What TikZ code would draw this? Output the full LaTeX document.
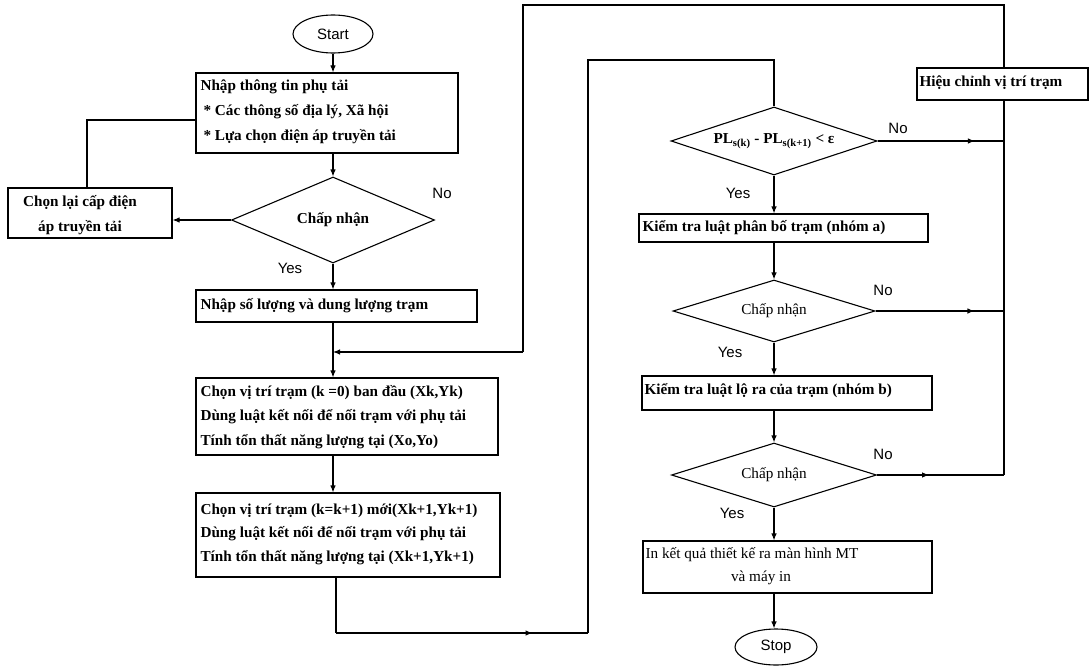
\documentclass[tikz,border=0pt]{standalone}
\usepackage{fontspec}
\setmainfont{Liberation Serif}
\newfontfamily\sfarial{Liberation Sans}
\usetikzlibrary{shapes.geometric, arrows.meta, decorations.markings, fit}
\begin{document}
\begin{tikzpicture}[x=1pt, y=-1pt, line width=1.1pt,
  box/.style={draw, rectangle, inner sep=0pt},
  txt/.style={anchor=west, inner sep=0pt, font=\fontsize{15.2}{18}\selectfont\bfseries},
  txtc/.style={inner sep=0pt, font=\fontsize{15.2}{18}\selectfont\bfseries},
  dia/.style={draw, diamond, inner sep=0pt, font=\fontsize{15.2}{18}\selectfont\bfseries},
  term/.style={draw, ellipse, inner sep=0pt, font=\sfarial\fontsize{15}{18}\selectfont},
  lab/.style={font=\sfarial\fontsize{15}{18}\selectfont, inner sep=0pt},
  arr/.style={-{Latex[length=7pt,width=5.5pt]}},
  midarr/.style={postaction={decorate}, decoration={markings, mark=at position #1 with {\arrow{Latex[length=7pt,width=5.5pt]}}}}
]
\useasboundingbox (0,0) rectangle (1091,666);
% axes
\coordinate (ax) at (333,0);
\coordinate (rx) at (774,0);
\coordinate (vx) at (1004,0);
% left column
\node[term, minimum width=80pt, minimum height=38pt] (start) at (333,34) {Start};
\node[box, fit={(196,73) (458,153)}] (b1) {};
\node[txt] (t1a) at (200,87) {Nhập thông tin phụ tải};
\node[txt] (t1b) at (203,112) {* Các thông số địa lý, Xã hội};
\node[txt] (t1c) at (203,137) {* Lựa chọn điện áp truyền tải};
\node[dia, shape aspect=2.36, minimum width=203pt, minimum height=86pt] (d1) at (333,220) {Chấp nhận};
\node[box, fit={(8,188) (172,238)}] (cl) {};
\node[txtc] (tcl1) at (80,203) {Chọn lại cấp điện};
\node[txtc] (tcl2) at (80,228) {áp truyền tải};
\node[box, fit={(196,290) (477,322)}] (b2) {};
\node[txt] (t2) at (200,306) {Nhập số lượng và dung lượng trạm};
\coordinate (j1) at (333,352);
\node[box, fit={(196,378) (498,455)}] (b3) {};
\node[txt] (t3a) at (200,393) {Chọn vị trí trạm (k =0) ban đầu (Xk,Yk)};
\node[txt] (t3b) at (200,417) {Dùng luật kết nối để nối trạm với phụ tải};
\node[txt] (t3c) at (200,442) {Tính tổn thất năng lượng tại (Xo,Yo)};
\node[box, fit={(196,493) (500,577)}] (b4) {};
\node[txt] (t4a) at (200,511) {Chọn vị trí trạm (k=k+1) mới(Xk+1,Yk+1)};
\node[txt] (t4b) at (200,534) {Dùng luật kết nối để nối trạm với phụ tải};
\node[txt] (t4c) at (200,558) {Tính tổn thất năng lượng tại (Xk+1,Yk+1)};
\coordinate (fb) at (87,120);
\coordinate (lb) at (336,633);
\coordinate (rb) at (588,633);
\coordinate (rt) at (588,60);
% right column
\node[dia, shape aspect=3.03, minimum width=206pt, minimum height=68pt] (d2) at (774,141) {PL\textsubscript{s(k)} - PL\textsubscript{s(k+1)} < ε};
\node[box, fit={(639,214) (928,242)}] (b5) {};
\node[txt] (t5) at (642,228) {Kiểm tra luật phân bố trạm (nhóm a)};
\node[dia, shape aspect=3.26, minimum width=202pt, minimum height=62pt, font=\fontsize{15.2}{18}\selectfont] (d3) at (774,311) {Chấp nhận};
\node[box, fit={(642,376) (932,410)}] (b6) {};
\node[txt] (t6) at (644,391) {Kiểm tra luật lộ ra của trạm (nhóm b)};
\node[dia, shape aspect=3.2, minimum width=205pt, minimum height=64pt, font=\fontsize{15.2}{18}\selectfont] (d4) at (774,475) {Chấp nhận};
\node[box, fit={(643,541) (932,593)}] (b7) {};
\node[txt, font=\fontsize{15.2}{18}\selectfont] (t7a) at (645,555) {In kết quả thiết kế ra màn hình MT};
\node[txtc, font=\fontsize{15.2}{18}\selectfont] (t7b) at (761,578) {và máy in};
\node[term, minimum width=82pt, minimum height=36pt] (stop) at (776,647) {Stop};
\node[box, fit={(917,68) (1088,100)}] (hc) {};
\node[txt] (thc) at (919,83) {Hiệu chỉnh vị trí trạm};
\coordinate (tr) at (1004,5);
\coordinate (tl) at (523,5);
\coordinate (jr) at (523,352);
% labels
\node[lab] (n1) at (442,193) {No};
\node[lab] (y1) at (290,268) {Yes};
\node[lab] (n2) at (898,128) {No};
\node[lab] (y2) at (738,193) {Yes};
\node[lab] (n3) at (883,290) {No};
\node[lab] (y3) at (730,352) {Yes};
\node[lab] (n4) at (883,454) {No};
\node[lab] (y4) at (732,513) {Yes};
% connectors
\draw[arr] (start) -- (start |- b1.north);
\draw[arr] (b1.south -| ax) -- (d1.north);
\draw[arr] (d1.west) -- (d1.west -| cl.east);
\draw (cl.north -| fb) -- (fb) -- (b1.west |- fb);
\draw[arr] (d1.south) -- (b2.north -| ax);
\draw (b2.south -| ax) -- (j1);
\draw[arr] (j1) -- (b3.north -| ax);
\draw[arr] (b3.south -| ax) -- (b4.north -| ax);
\draw (b4.south -| lb) -- (lb);
\draw[midarr=0.78] (lb) -- (rb);
\draw (rb) -- (rt) -- (rt -| d2.north) -- (d2.north);
\draw[arr] (d2.south) -- (b5.north -| rx);
\draw[arr] (b5.south -| rx) -- (d3.north);
\draw[arr] (d3.south) -- (b6.north -| rx);
\draw[arr] (b6.south -| rx) -- (d4.north);
\draw[arr] (d4.south) -- (b7.north -| rx);
\draw[arr] (b7.south -| rx) -- (stop.north -| rx);
\draw[midarr=0.77] (d2.east) -- (d2.east -| vx);
\draw[midarr=0.77] (d3.east) -- (d3.east -| vx);
\draw[midarr=0.41] (d4.east) -- (d4.east -| vx);
\draw (d4.east -| vx) -- (hc.south -| vx);
\draw (hc.north -| vx) -- (tr) -- (tl) -- (jr);
\draw[arr] (jr) -- (j1);
\end{tikzpicture}
\end{document}
